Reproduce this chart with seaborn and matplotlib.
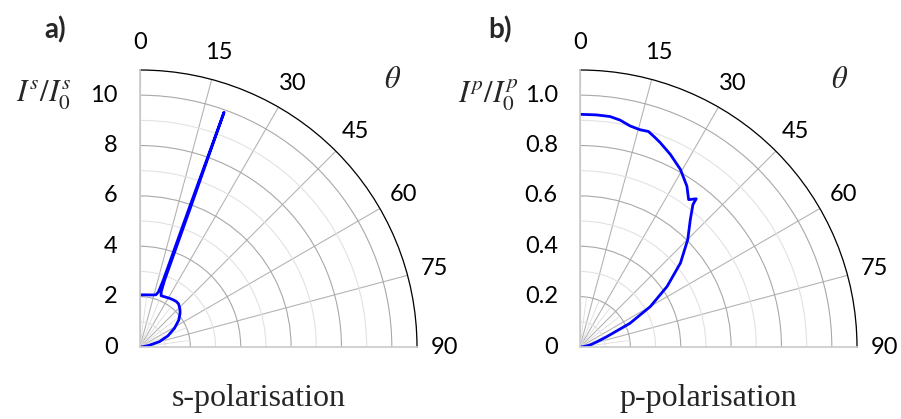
import numpy as np
import pandas as pd
import seaborn as sns
import matplotlib.pyplot as plt
from matplotlib.ticker import MultipleLocator

# s-polarisation, angle (deg) vs normalised intensity
theta_s = [0, 5, 10, 14, 17, 18.5, 19.2, 19.5, 19.7, 19.9, 20.2, 21.0, 22.4, 26, 31,
           35, 38.5, 41.5, 44.3, 47, 49.9, 55.1, 61.4, 68.3, 74.6, 79.6, 84, 90]
r_s = [2.07, 2.08, 2.10, 2.13, 2.17, 2.3, 2.8, 6.0, 9.9, 6.0, 2.8, 2.35, 2.20, 2.22, 2.26,
       2.29, 2.31, 2.30, 2.24, 2.17, 2.08, 1.88, 1.56, 1.19, 0.80, 0.38, 0.15, 0.0]

# p-polarisation
theta_p = [0, 4, 7.4, 10, 12.8, 15.5, 17.6, 19.5, 21.4, 25.1, 29.5, 33.6, 36.4, 38.1,
           38.4, 40.9, 45.1, 50.1, 55.2, 60.1, 64.6, 68.9, 73, 78.7, 84, 90]
r_p = [0.924, 0.924, 0.923, 0.915, 0.900, 0.895, 0.898, 0.885, 0.872, 0.845, 0.810,
       0.767, 0.727, 0.748, 0.722, 0.669, 0.604, 0.520, 0.421, 0.322, 0.220, 0.114,
       0.07, 0.041, 0.015, 0.0]

theta_ticks = [0, 15, 30, 45, 60, 75, 90]

sns.set_theme(style="white")
plt.rcParams["font.family"] = ["Lato", "DejaVu Sans"]
plt.rcParams["mathtext.fontset"] = "stix"

W, H = 901, 419
fig = plt.figure(figsize=(W / 100, H / 100), dpi=100)


def quarter_polar(cx, cy, rad, rmax, rstep, fmt):
    ax = fig.add_axes([cx / W, (H - cy) / H, rad / W, rad / H], projection="polar")
    ax.set_theta_zero_location("N")
    ax.set_theta_direction(-1)
    ax.set_thetamin(0)
    ax.set_thetamax(90)
    ax.set_ylim(0, rmax)

    ax.set_xticks(np.deg2rad(theta_ticks))
    ax.set_xticklabels([str(t) for t in theta_ticks])
    ax.xaxis.set_minor_locator(MultipleLocator(np.deg2rad(7.5)))
    ax.tick_params(axis="x", which="major", direction="in", length=7, width=0.9,
                   color="black", pad=13, labelsize=17, labelcolor="black")
    ax.tick_params(axis="x", which="minor", direction="in", length=3.5, width=0.8,
                   color="black")

    ax.set_yticks(np.arange(0, rmax, rstep))
    ax.set_yticklabels([fmt(v) for v in np.arange(0, rmax, rstep)])
    ax.yaxis.set_minor_locator(MultipleLocator(rstep / 2))
    ax.tick_params(axis="y", which="both", length=0, pad=16, labelsize=17,
                   labelcolor="black")

    ax.grid(True, which="major", axis="x", color="#b4b4b4", lw=0.8)
    ax.grid(True, which="major", axis="y", color="#a8a8a8", lw=0.8)
    ax.grid(True, which="minor", axis="y", color="#e2e2e2", lw=0.8)
    # short minor spokes near the origin
    ax.vlines(np.deg2rad(np.arange(7.5, 90, 15)), 0, rstep, color="#dedede", lw=0.6)

    ax.spines["polar"].set_color("black")
    ax.spines["polar"].set_linewidth(0.9)
    ax.spines["start"].set_color("#cccccc")
    ax.spines["end"].set_color("#cccccc")
    ax.spines["inner"].set_visible(False)
    return ax


ax1 = quarter_polar(140, 347, 277, 11, 2, lambda v: f"{v:g}")
ax2 = quarter_polar(580, 347, 277, 1.1, 0.2, lambda v: "0" if v == 0 else f"{v:.1f}")

df_s = pd.DataFrame({"theta": np.deg2rad(theta_s), "r": r_s})
df_p = pd.DataFrame({"theta": np.deg2rad(theta_p), "r": r_p})
sns.lineplot(data=df_s, x="theta", y="r", sort=False, estimator=None, color="#0000ff",
             lw=2.0, ax=ax1)
sns.lineplot(data=df_p, x="theta", y="r", sort=False, estimator=None, color="#0000ff",
             lw=2.0, ax=ax2)
for ax in (ax1, ax2):
    ax.set_xlabel("")
    ax.set_ylabel("")

fig.text(55 / W, 1 - 30 / H, "a)", fontsize=20, fontweight="bold", ha="center", va="center")
fig.text(500 / W, 1 - 30 / H, "b)", fontsize=20, fontweight="bold", ha="center", va="center")
fig.text(44 / W, 1 - 95 / H, r"$I^s/I_0^s$", fontsize=22, ha="center", va="center")
fig.text(488 / W, 1 - 95 / H, r"$I^p/I_0^p$", fontsize=22, ha="center", va="center")
fig.text(393 / W, 1 - 79 / H, r"$\theta$", fontsize=22, ha="center", va="center")
fig.text(840 / W, 1 - 79 / H, r"$\theta$", fontsize=22, ha="center", va="center")
fig.text(259 / W, 1 - 398 / H, "s-polarisation", fontsize=23, family="Liberation Serif",
         ha="center", va="center")
fig.text(708 / W, 1 - 398 / H, "p-polarisation", fontsize=23, family="Liberation Serif",
         ha="center", va="center")

fig.savefig("out.png", dpi=100)
